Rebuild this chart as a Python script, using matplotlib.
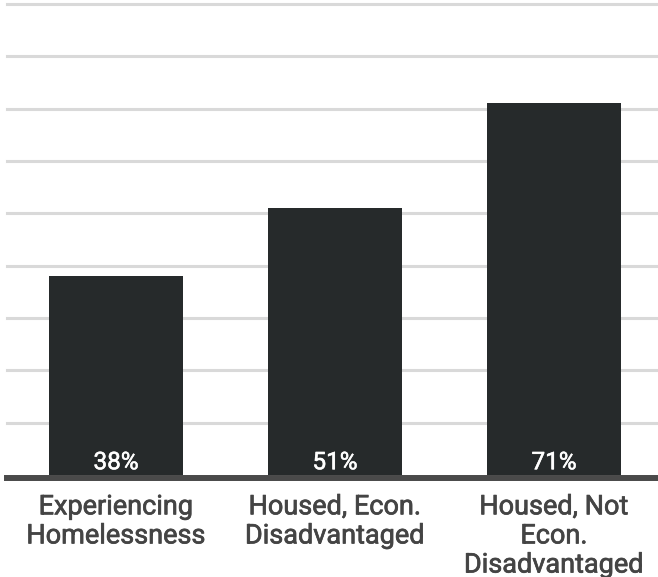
import numpy as np
import matplotlib.pyplot as plt
import matplotlib.patheffects as pe

# data
categories = ["Experiencing\nHomelessness", "Housed, Econ.\nDisadvantaged", "Housed, Not\nEcon.\nDisadvantaged"]
values = [38, 51, 71]
grid_ticks = [10, 20, 30, 40, 50, 60, 70, 80, 90]

plt.rcParams['font.family'] = ['Roboto', 'DejaVu Sans']

fig = plt.figure(figsize=(6.58, 5.77), dpi=100)
ax = fig.add_axes([7 / 658, 102 / 577, 651 / 658, 471 / 577])

x = np.arange(len(categories))
unit = 219.0
ax.set_xlim(-109 / unit, 2 + 104 / unit)
ax.set_ylim(0, 90)

for t in grid_ticks:
    ax.axhline(t, color="#d9d9d9", lw=2.2, zorder=1, clip_on=False)

ax.bar(x, values, width=134 / unit, color="#262a2b", zorder=2)
ax.axhline(-0.55, color="#4a4a4a", lw=4.3, zorder=3, clip_on=False)

for xi, v in zip(x, values):
    ax.text(xi, 1.1, f"{v}%", ha="center", va="baseline", color="white",
            fontsize=17.5, zorder=4,
            path_effects=[pe.withStroke(linewidth=0.4, foreground="white")])

for xi, c in zip(x, categories):
    ax.text(xi, -3.5, c, ha="center", va="top", color="#444444", fontsize=19.5,
            linespacing=1.1, clip_on=False,
            path_effects=[pe.withStroke(linewidth=0.5, foreground="#444444")])

for s in ax.spines.values():
    s.set_visible(False)
ax.set_xticks([])
ax.set_yticks([])

fig.savefig("out.png", dpi=100)
